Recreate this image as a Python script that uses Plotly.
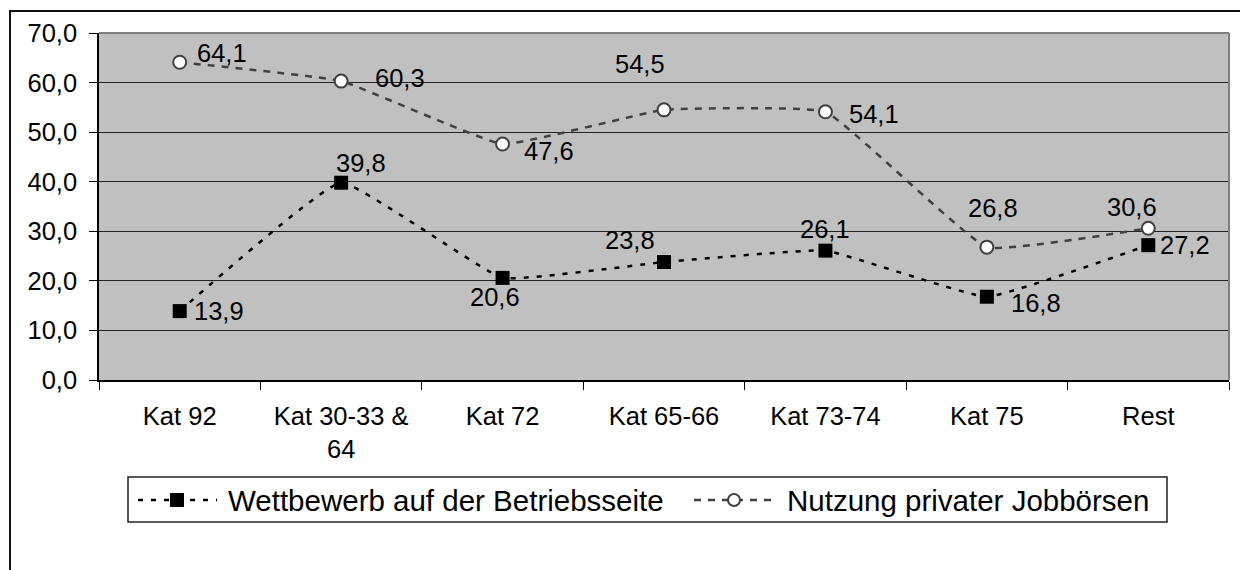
import plotly.graph_objects as go

# ---- data -------------------------------------------------------------
categories = ["Kat 92", "Kat 30-33 & 64", "Kat 72", "Kat 65-66",
              "Kat 73-74", "Kat 75", "Rest"]
tick_labels = ["Kat 92", "Kat 30-33 &<br>64", "Kat 72", "Kat 65-66",
               "Kat 73-74", "Kat 75", "Rest"]
wettbewerb = [13.9, 39.8, 20.6, 23.8, 26.1, 16.8, 27.2]
jobboersen = [64.1, 60.3, 47.6, 54.5, 54.1, 26.8, 30.6]
series_names = ["Wettbewerb auf der Betriebsseite", "Nutzung privater Jobbörsen"]
y_ticks = [0, 10, 20, 30, 40, 50, 60, 70]

# label placement per point: (xanchor, dx, dy) in pixels from the marker centre
labels_wettbewerb = [("left", 12, 0), ("center", 20, -20), ("center", -8, 19),
                     ("center", -34, -22), ("center", 0, -22), ("left", 22, 6),
                     ("left", 10, 0)]
labels_jobboersen = [("left", 15, -9), ("left", 32, -3), ("left", 19, 7),
                     ("center", -24, -46), ("left", 22, 2), ("center", 6, -39),
                     ("center", -16, -21)]

# ---- geometry ---------------------------------------------------------
W, H = 1240, 570
PL, PR, PT, PB = 99, 1229, 33, 380   # plot area edges in pixels
FONT = "Liberation Sans, Arial, sans-serif"
TICK_SIZE = 25.5
LEG_SIZE = 29.5
SMOOTH = 0.3


def px(x):
    return (x - PL) / (PR - PL)


def py(y):
    return (PB - y) / (PB - PT)


def fmt(v):
    return f"{v:.1f}".replace(".", ",")


fig = go.Figure()

fig.add_trace(go.Scatter(
    x=categories, y=wettbewerb, name=series_names[0], mode="lines+markers",
    line=dict(color="#000000", width=2.5, dash="5px,8px", shape="spline", smoothing=SMOOTH),
    marker=dict(symbol="square", size=14, color="#000000"),
    showlegend=False, cliponaxis=False,
))
fig.add_trace(go.Scatter(
    x=categories, y=jobboersen, name=series_names[1], mode="lines+markers",
    line=dict(color="#404040", width=2.5, dash="7px,7px", shape="spline", smoothing=SMOOTH),
    marker=dict(symbol="circle", size=13, color="#ffffff",
                line=dict(color="#404040", width=2)),
    showlegend=False, cliponaxis=False,
))

annotations = []
for values, places in ((wettbewerb, labels_wettbewerb), (jobboersen, labels_jobboersen)):
    for cat, v, (anc, dx, dy) in zip(categories, values, places):
        annotations.append(dict(
            x=cat, y=v, xref="x", yref="y", text=fmt(v), showarrow=False,
            xanchor=anc, yanchor="middle", xshift=dx, yshift=-dy,
            font=dict(family=FONT, size=TICK_SIZE, color="#000000"),
        ))

# legend texts
annotations.append(dict(x=px(226), y=py(500), xref="paper", yref="paper",
                        text=series_names[0], showarrow=False, xanchor="left",
                        yanchor="middle", font=dict(family=FONT, size=LEG_SIZE, color="#000")))
annotations.append(dict(x=px(785), y=py(500), xref="paper", yref="paper",
                        text=series_names[1], showarrow=False, xanchor="left",
                        yanchor="middle", font=dict(family=FONT, size=LEG_SIZE, color="#000")))

shapes = [
    # outer chart frame
    dict(type="rect", xref="paper", yref="paper", x0=px(10), x1=px(1262),
         y0=py(600), y1=py(11), line=dict(color="#111111", width=2), layer="above"),
    # plot-area frame (top and right edges)
    dict(type="line", xref="paper", yref="paper", x0=0, x1=1, y0=1, y1=1,
         line=dict(color="#808080", width=2), layer="above"),
    dict(type="line", xref="paper", yref="paper", x0=1, x1=1, y0=0, y1=1,
         line=dict(color="#808080", width=2), layer="above"),
    # legend box
    dict(type="rect", xref="paper", yref="paper", x0=px(128), x1=px(1167),
         y0=py(522), y1=py(477), line=dict(color="#222222", width=1.5),
         fillcolor="#ffffff", layer="above"),
    # legend symbol 1
    dict(type="line", xref="paper", yref="paper", x0=px(138), x1=px(217),
         y0=py(500), y1=py(500), line=dict(color="#000000", width=2.5, dash="5px,8px"),
         layer="above"),
    dict(type="rect", xref="paper", yref="paper", x0=px(170), x1=px(184),
         y0=py(507), y1=py(493), fillcolor="#000000", line=dict(width=0),
         layer="above"),
    # legend symbol 2
    dict(type="line", xref="paper", yref="paper", x0=px(694), x1=px(775),
         y0=py(500), y1=py(500), line=dict(color="#404040", width=2.5, dash="7px,7px"),
         layer="above"),
    dict(type="circle", xref="paper", yref="paper", x0=px(728), x1=px(740),
         y0=py(506), y1=py(494), fillcolor="#ffffff",
         line=dict(color="#404040", width=2), layer="above"),
]

fig.update_layout(
    width=W, height=H, autosize=False,
    margin=dict(l=PL, r=W - PR, t=PT, b=H - PB, pad=0),
    paper_bgcolor="#ffffff", plot_bgcolor="#c0c0c0",
    separators=", ",
    font=dict(family=FONT, size=TICK_SIZE, color="#000000"),
    showlegend=False,
    annotations=annotations,
    shapes=shapes,
    xaxis=dict(
        type="category", categoryorder="array", categoryarray=categories,
        tickmode="array", tickvals=categories, ticktext=tick_labels,
        tickson="boundaries", ticks="outside", ticklen=8, tickwidth=1,
        tickcolor="#000000", showline=True, linecolor="#000000", linewidth=2,
        showgrid=False, zeroline=False, range=[-0.5, 6.5],
        tickfont=dict(family=FONT, size=TICK_SIZE, color="#000000"),
        ticklabelstandoff=12,
    ),
    yaxis=dict(
        range=[0, 70], tickmode="array", tickvals=y_ticks, tickformat=".1f",
        ticks="outside", ticklen=8, tickwidth=1, tickcolor="#000000",
        showline=True, linecolor="#000000", linewidth=1.5,
        showgrid=True, gridcolor="#222222", gridwidth=1, zeroline=False,
        tickfont=dict(family=FONT, size=TICK_SIZE, color="#000000"),
        ticklabelstandoff=7,
    ),
)

fig.write_html("out.html")
